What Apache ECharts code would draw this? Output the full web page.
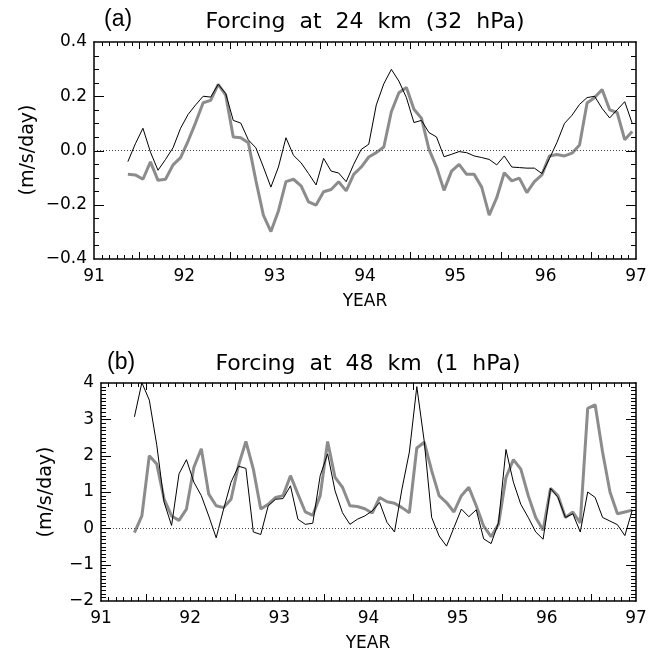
<!DOCTYPE html>
<html>
<head>
<meta charset="utf-8">
<script src="https://cdn.jsdelivr.net/npm/echarts@6/dist/echarts.min.js"></script>
<style>
html,body{margin:0;padding:0;background:#fff;}
#chart{width:650px;height:656px;}
</style>
</head>
<body>
<div id="chart"></div>
<script>
// ---- data (monthly values, first point = mid-May 1991) ----
const startYear = 91.375;          // first month centre
const monthStep = 1 / 12;
const yearLabels = ['91', '92', '93', '94', '95', '96', '97'];

const panelATitle = 'Forcing  at  24  km  (32  hPa)';
const panelBTitle = 'Forcing  at  48  km  (1  hPa)';

// Panel (a): 24 km
const blackA = [-0.041, 0.025, 0.082, -0.006, -0.073, -0.033, 0.010, 0.082, 0.133, 0.168, 0.200, 0.197,
  0.244, 0.210, 0.111, 0.101, 0.039, 0.010, -0.061, -0.135, -0.061, 0.047, -0.018, -0.045,
  -0.085, -0.127, -0.029, -0.076, -0.083, -0.115, -0.051, 0.004, 0.023, 0.168, 0.246, 0.299,
  0.256, 0.195, 0.103, 0.111, 0.066, 0.050, -0.023, -0.014, -0.004, -0.008, -0.020, -0.026,
  -0.033, -0.053, -0.020, -0.061, -0.063, -0.065, -0.065, -0.085, -0.030, 0.030, 0.100, 0.130,
  0.170, 0.195, 0.200, 0.155, 0.120, 0.150, 0.180, 0.100];
const grayA = [-0.088, -0.090, -0.106, -0.042, -0.110, -0.106, -0.053, -0.026, 0.035, 0.103, 0.176, 0.185,
  0.244, 0.204, 0.050, 0.047, 0.029, -0.110, -0.238, -0.299, -0.223, -0.115, -0.106, -0.130,
  -0.189, -0.201, -0.152, -0.144, -0.115, -0.149, -0.088, -0.061, -0.024, -0.008, 0.013, 0.143,
  0.213, 0.232, 0.152, 0.119, 0.004, -0.061, -0.147, -0.076, -0.051, -0.088, -0.088, -0.135,
  -0.238, -0.174, -0.082, -0.112, -0.102, -0.155, -0.115, -0.090, -0.020, -0.015, -0.020, -0.010,
  0.020, 0.175, 0.195, 0.225, 0.150, 0.140, 0.040, 0.070];

// Panel (b): 48 km
const blackB = [3.07, 4.01, 3.53, 2.30, 0.71, 0.08, 1.50, 1.89, 1.27, 0.90, 0.34, -0.26,
  0.53, 1.27, 1.71, 1.65, -0.10, -0.17, 0.62, 0.80, 0.82, 1.17, 0.25, 0.11,
  0.14, 1.45, 2.05, 1.03, 0.43, 0.11, 0.25, 0.34, 0.48, 0.71, 0.16, -0.10,
  1.08, 2.10, 3.90, 2.40, 0.30, -0.21, -0.49, 0.02, 0.53, 0.32, 0.51, -0.29,
  -0.42, 0.16, 2.17, 1.27, 0.66, 0.30, -0.10, -0.30, 1.10, 0.85, 0.30, 0.40,
  -0.10, 1.00, 0.85, 0.30, 0.20, 0.10, -0.20, 0.50];
const grayB = [-0.12, 0.34, 2.00, 1.77, 0.80, 0.34, 0.22, 0.53, 1.68, 2.19, 0.94, 0.62,
  0.57, 0.80, 1.73, 2.39, 1.63, 0.53, 0.66, 0.85, 0.90, 1.45, 0.94, 0.45,
  0.36, 0.90, 2.39, 1.40, 1.13, 0.62, 0.60, 0.54, 0.42, 0.85, 0.73, 0.69,
  0.57, 0.43, 2.21, 2.37, 1.59, 0.90, 0.71, 0.45, 0.90, 1.13, 0.62, 0.06,
  -0.23, 0.11, 1.40, 1.89, 1.63, 0.90, 0.30, -0.05, 1.10, 0.90, 0.30, 0.45,
  0.15, 3.30, 3.40, 2.10, 1.00, 0.40, 0.45, 0.50];

// ---- build ----
function pairs(vals) {
  return vals.map((v, i) => [startYear + i * monthStep, v]);
}
const FONT = '"DejaVu Sans", sans-serif';
const minus = s => s.replace('-', '\u2212');
const AXLINE = {show: true, onZero: false, lineStyle: {color: '#000', width: 1.5}};

// frame tick positions (axis decoration)
function xTickPos(half) {
  const t = [];
  for (let k = 1; k < 72; k++) if ((k % 12 === 6) === half) t.push([91 + k / 12, 0]);
  return t;
}
function yTickPos(yMin, yMax, step, skipEvery) {
  const t = [];
  const n = Math.round((yMax - yMin) / step);
  for (let j = 1; j < n; j++) if (!skipEvery || j % skipEvery !== 0) t.push([91, yMin + j * step]);
  return t;
}
function tickSeries(xi, yi, data, isX, len) {
  return {
    type: 'custom', xAxisIndex: xi, yAxisIndex: yi, data: data, silent: true, z: 10,
    clip: false,
    renderItem: function (params, api) {
      const cs = params.coordSys;
      const p = api.coord([api.value(0), api.value(1)]);
      const st = {stroke: '#000', lineWidth: 1};
      if (isX) {
        const px = Math.round(p[0]) + 0.5;
        const yb = cs.y + cs.height, yt = cs.y;
        return {type: 'group', children: [
          {type: 'line', shape: {x1: px, y1: yb, x2: px, y2: yb - len}, style: st},
          {type: 'line', shape: {x1: px, y1: yt, x2: px, y2: yt + len}, style: st}
        ]};
      }
      const py = Math.round(p[1]) + 0.5;
      const xl = cs.x, xr = cs.x + cs.width;
      return {type: 'group', children: [
        {type: 'line', shape: {x1: xl, y1: py, x2: xl + len, y2: py}, style: st},
        {type: 'line', shape: {x1: xr, y1: py, x2: xr - len, y2: py}, style: st}
      ]};
    }
  };
}

function xAxesFor(gi) {
  const common = {gridIndex: gi, type: 'value', min: 91, max: 97, interval: 1,
    splitLine: {show: false}, axisTick: {show: false}, axisLine: AXLINE};
  return [
    Object.assign({}, common, {
      position: 'bottom',
      axisLabel: {show: true, margin: 9, fontSize: 17, color: '#000', fontFamily: FONT,
        formatter: v => yearLabels[Math.round(v) - 91]}
    }),
    Object.assign({}, common, {position: 'top', axisLabel: {show: false}})
  ];
}
function yAxesFor(gi, min, max, interval, fmt) {
  const common = {gridIndex: gi, type: 'value', min: min, max: max, interval: interval,
    splitLine: {show: false}, axisTick: {show: false}, axisLine: AXLINE};
  return [
    Object.assign({}, common, {
      position: 'left',
      axisLabel: {show: true, margin: 7, fontSize: 17, color: '#000', fontFamily: FONT, formatter: fmt}
    }),
    Object.assign({}, common, {position: 'right', axisLabel: {show: false}})
  ];
}

const zeroLine = {
  silent: true, symbol: ['none', 'none'], label: {show: false},
  lineStyle: {type: [1, 2], color: '#444', width: 1},
  data: [{yAxis: 0}], animation: false
};

const option = {
  animation: false,
  backgroundColor: '#fff',
  grid: [
    {left: 94, top: 42, width: 542, height: 217},
    {left: 101, top: 383, width: 535, height: 218}
  ],
  xAxis: [].concat(xAxesFor(0), xAxesFor(1)),
  yAxis: [].concat(
    yAxesFor(0, -0.4, 0.4, 0.2, v => minus(v.toFixed(1))),
    yAxesFor(1, -2, 4, 1, v => minus(String(Math.round(v))))
  ),
  series: [
    tickSeries(0, 0, xTickPos(false), true, 4),
    tickSeries(0, 0, xTickPos(true), true, 7),
    tickSeries(0, 0, yTickPos(-0.4, 0.4, 0.05, 4), false, 5),
    tickSeries(0, 0, yTickPos(-0.4, 0.4, 0.2, 0), false, 10),
    tickSeries(2, 2, xTickPos(false), true, 4),
    tickSeries(2, 2, xTickPos(true), true, 7),
    tickSeries(2, 2, yTickPos(-2, 4, 0.1, 10), false, 5),
    tickSeries(2, 2, yTickPos(-2, 4, 1, 0), false, 10),
    {type: 'line', xAxisIndex: 0, yAxisIndex: 0, data: pairs(grayA), showSymbol: false,
      lineStyle: {color: '#8c8c8c', width: 3}, z: 2, markLine: zeroLine},
    {type: 'line', xAxisIndex: 0, yAxisIndex: 0, data: pairs(blackA), showSymbol: false,
      lineStyle: {color: '#000', width: 1}, z: 3},
    {type: 'line', xAxisIndex: 2, yAxisIndex: 2, data: pairs(grayB), showSymbol: false,
      lineStyle: {color: '#8c8c8c', width: 3}, z: 2, markLine: zeroLine},
    {type: 'line', xAxisIndex: 2, yAxisIndex: 2, data: pairs(blackB), showSymbol: false,
      lineStyle: {color: '#000', width: 1}, z: 3}
  ],
  graphic: [
    {type: 'text', x: 104, y: 20, style: {text: '(a)', font: '23px "Liberation Sans", sans-serif', fill: '#000', align: 'left', verticalAlign: 'middle'}},
    {type: 'text', x: 365, y: 22, style: {text: panelATitle, font: '22px ' + FONT, fill: '#000', align: 'center', verticalAlign: 'middle'}},
    {type: 'text', x: 365, y: 302, style: {text: 'YEAR', font: '17px ' + FONT, fill: '#000', align: 'center', verticalAlign: 'middle'}},
    {type: 'text', x: 28, y: 150, rotation: Math.PI / 2, style: {text: '(m/s/day)', font: '19px ' + FONT, fill: '#000', align: 'center', verticalAlign: 'middle'}},
    {type: 'text', x: 107, y: 363, style: {text: '(b)', font: '23px "Liberation Sans", sans-serif', fill: '#000', align: 'left', verticalAlign: 'middle'}},
    {type: 'text', x: 368, y: 364, style: {text: panelBTitle, font: '22px ' + FONT, fill: '#000', align: 'center', verticalAlign: 'middle'}},
    {type: 'text', x: 368, y: 644, style: {text: 'YEAR', font: '17px ' + FONT, fill: '#000', align: 'center', verticalAlign: 'middle'}},
    {type: 'text', x: 46, y: 492, rotation: Math.PI / 2, style: {text: '(m/s/day)', font: '19px ' + FONT, fill: '#000', align: 'center', verticalAlign: 'middle'}}
  ]
};

const chart = echarts.init(document.getElementById('chart'), null, {renderer: 'canvas'});
chart.setOption(option);
</script>
</body>
</html>
